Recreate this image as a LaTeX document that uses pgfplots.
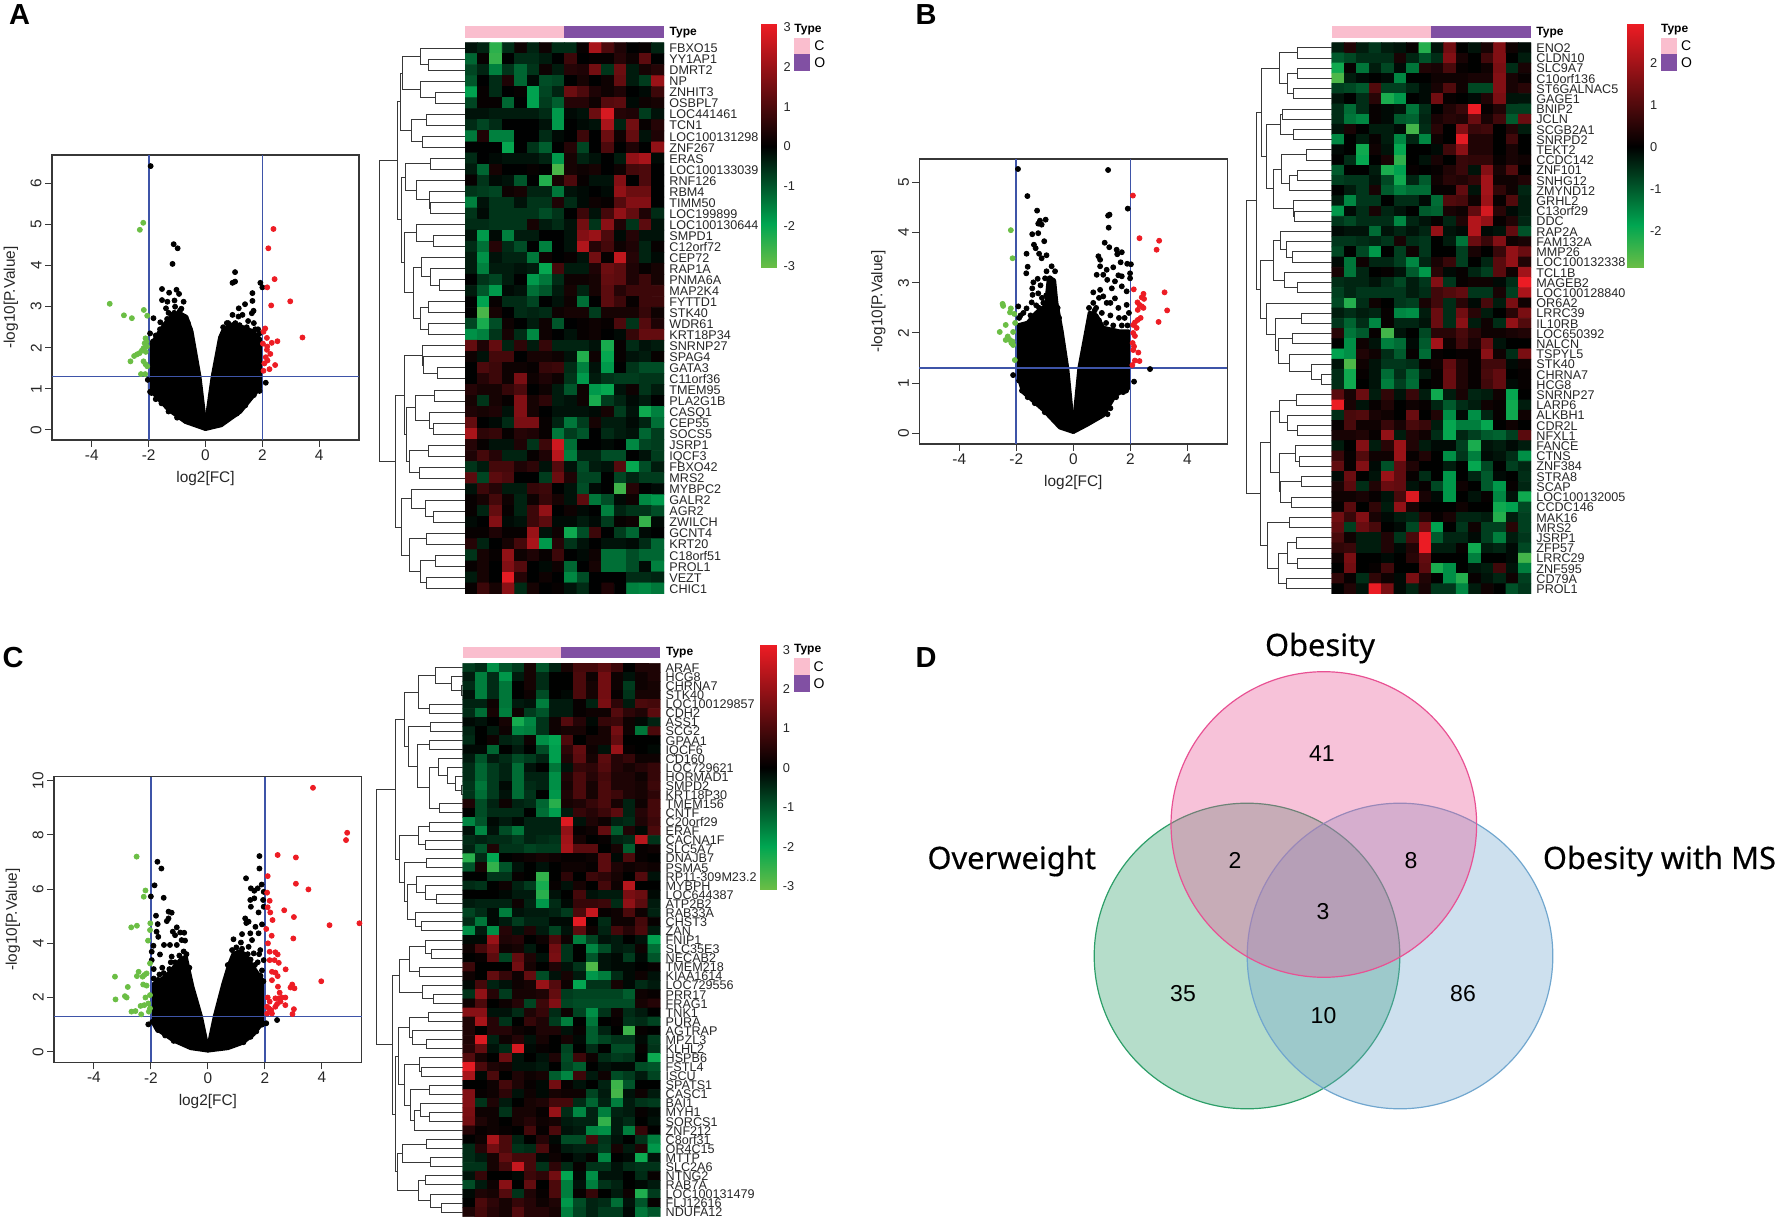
\documentclass[border=0pt]{standalone}
\usepackage{fontspec}
\setmainfont{Liberation Sans}
\newfontfamily\vennfont[FakeBold=0.4]{Noto Sans}
\usepackage{pgfplots}
\pgfplotsset{compat=1.18}
\definecolor{blu}{RGB}{62,84,168}
\definecolor{frm}{RGB}{55,55,55}
\definecolor{grn}{RGB}{107,190,69}
\definecolor{rd}{RGB}{237,28,36}
\definecolor{pnk}{RGB}{250,190,206}
\definecolor{prp}{RGB}{129,80,163}
\definecolor{vp}{RGB}{232,81,147}
\definecolor{vg}{RGB}{44,158,104}
\definecolor{vb}{RGB}{112,166,206}
\pgfplotsset{
 hmap/.style={colormap={hm}{rgb255(0cm)=(108,190,69); rgb255(1.8cm)=(0,166,81); rgb255(5cm)=(0,0,0); rgb255(10cm)=(237,28,36)}},
 volc/.style={scale only axis,anchor=south west,clip=false,axis line style={draw=frm,line width=.6pt},
  xmin=-5.4,xmax=5.4,xtick={-4,-2,0,2,4},xticklabels={-4,-2,0,2,4},
  tick align=outside,major tick length=3.5pt,tick style={draw=frm,line width=.5pt},xtick pos=bottom,ytick pos=left,
  tick label style={font=\fontsize{7.7}{9}\selectfont,text=black!85},
  xticklabel style={inner sep=1.3pt},
  yticklabel style={rotate=90,anchor=south,inner sep=1.5pt},
  every axis x label/.style={at={(axis description cs:.5,0)},anchor=center,yshift=-19.5pt,font=\fontsize{7.7}{9}\selectfont,text=black!85},
  every axis y label/.style={at={(axis description cs:0,.5)},rotate=90,anchor=center,yshift=20.5pt,font=\fontsize{7.7}{9}\selectfont,text=black!85},
  xlabel={log2[FC]},ylabel={-log10[P.Value]}},
 mass/.style={fill=black,draw=black,line width=2.2pt,line join=round},
 dots/.style={only marks,mark=*,mark size=1.25pt,mark options={draw=#1,fill=#1},draw=#1},
 vln/.style={blu,line width=.85pt},
 heat/.style={scale only axis,anchor=south west,hmap,y dir=reverse,xmin=-.5,xmax=15.5,ymin=-.5,xtick=\empty,
  axis line style={draw=none},major tick length=0pt,yticklabel pos=right,
  yticklabel style={font=\fontsize{6.3}{7}\selectfont,anchor=base west,inner sep=0pt,xshift=2.5pt,yshift=-2.3pt,text=black!85}},
 cbar/.style={scale only axis,anchor=south west,hmap,xmin=0,xmax=1,xtick=\empty,axis line style={draw=none},major tick length=0pt,
  yticklabel pos=right,yticklabel style={font=\fontsize{6.4}{7}\selectfont,anchor=west,inner sep=0pt,xshift=3.2pt,text=black!85}},
 dendax/.style={scale only axis,anchor=south west,hide axis,y dir=reverse,ymin=-.5,clip=false},
 dend/.style={draw=black!78,line width=.5pt,forget plot},
}
\newcommand\U[5]{\addplot[dend] coordinates {(#2,#1)(#5,#1)(#5,#3)(#4,#3)};}
\newcommand\T[4][]{\node[inner sep=0pt,#1] at ({#2*0.5pt},{(1218-#3)*0.5pt}) {#4};}
\begin{document}
\begin{tikzpicture}
\path[use as bounding box] (0,0) rectangle (888pt,609pt);
% ---------- page layer: annotation bars, swatches, Venn
\begin{axis}[at={(0,0)},anchor=south west,scale only axis,width=888pt,height=609pt,hide axis,xmin=0,xmax=1776,ymin=0,ymax=1218,y dir=reverse,clip=false]
\addplot[fill=pnk,draw=none] coordinates {(465,26)(564.3,26)(564.3,38)(465,38)} --cycle;
\addplot[fill=prp,draw=none] coordinates {(564.3,26)(664,26)(664,38)(564.3,38)} --cycle;
\addplot[fill=pnk,draw=none] coordinates {(794,37.7)(810,37.7)(810,54)(794,54)} --cycle;
\addplot[fill=prp,draw=none] coordinates {(794,54)(810,54)(810,70.7)(794,70.7)} --cycle;
\addplot[fill=pnk,draw=none] coordinates {(1331.7,26)(1431,26)(1431,38)(1331.7,38)} --cycle;
\addplot[fill=prp,draw=none] coordinates {(1431,26)(1531,26)(1531,38)(1431,38)} --cycle;
\addplot[fill=pnk,draw=none] coordinates {(1660.7,37.7)(1677,37.7)(1677,54)(1660.7,54)} --cycle;
\addplot[fill=prp,draw=none] coordinates {(1660.7,54)(1677,54)(1677,70.7)(1660.7,70.7)} --cycle;
\addplot[fill=pnk,draw=none] coordinates {(462.7,646.7)(561.3,646.7)(561.3,658.3)(462.7,658.3)} --cycle;
\addplot[fill=prp,draw=none] coordinates {(561.3,646.7)(660.3,646.7)(660.3,658.3)(561.3,658.3)} --cycle;
\addplot[fill=pnk,draw=none] coordinates {(793.7,658.3)(810,658.3)(810,674.7)(793.7,674.7)} --cycle;
\addplot[fill=prp,draw=none] coordinates {(793.7,674.7)(810,674.7)(810,691.7)(793.7,691.7)} --cycle;
\addplot[only marks,mark=*,mark size=76.4pt,mark options={draw=vg,fill=vg,fill opacity=.35,draw opacity=1,line width=.6pt}] coordinates {(1247,956)};
\addplot[only marks,mark=*,mark size=76.4pt,mark options={draw=vb,fill=vb,fill opacity=.35,draw opacity=1,line width=.6pt}] coordinates {(1400,956)};
\addplot[only marks,mark=*,mark size=76.4pt,mark options={draw=vp,fill=vp,fill opacity=.35,draw opacity=1,line width=.6pt}] coordinates {(1323.8,824.5)};
\end{axis}
% ---------- volcano A
\begin{axis}[volc,at={(26pt,389pt)},width=153.5pt,height=142.5pt,ymin=-.243,ymax=6.69,ytick={0,1,2,3,4,5,6},yticklabels={0,1,2,3,4,5,6}]
\addplot[mass] coordinates {(0,.03)(-.22,1.3)(-.5,2.4)(-.68,2.75)(-.95,2.85)(-1.3,2.7)(-1.65,2.35)(-1.92,2.05)(-1.95,1)(-1.7,.8)(-1.3,.5)(-.7,.2)} --cycle;
\addplot[mass] coordinates {(0,.03)(.26,1.3)(.52,2.25)(.65,2.45)(.85,2.5)(1.3,2.5)(1.65,2.4)(1.93,2.2)(1.93,1.05)(1.75,.9)(1.22,.45)(.55,.12)} --cycle;
\addplot[dots=black] coordinates {(-1.93,6.42)(-1.12,4.52)(-.98,4.42)(-1.16,4.04)(-1.53,3.43)(-1.28,3.34)(-1.02,3.41)(-.93,3.31)(-1.53,3.16)(-1.34,3.12)(-1.09,3.15)(-.77,3.12)(-1.07,3)(-1.39,2.96)(-1.83,2.72)(-1.59,2.62)(-1.95,2.35)(-1.3,2.85)(-.85,2.95)(-1.5,2.4)(1.04,3.84)(1.04,3.61)(.95,3.58)(1.93,3.58)(2,3.47)(1.65,3.33)(1.65,3.14)(1.39,3.06)(1.17,2.96)(1.69,2.9)(1.63,2.84)(.95,2.8)(1.16,2.76)(1.3,2.8)(1.5,2.65)(1.7,2.6)(.8,2.6)(1.05,2.6)(1.85,2.45)(2.12,1.15)(-2.03,1.22)(-1.95,.93)
(-1.75,2.3)(-1.85,2.15)(-1.6,2.45)(-1.45,2.55)(-1.35,2.7)(-1.2,2.8)(-1.1,2.85)(-.9,2.9)(-.75,2.75)(-.62,2.6)(-.55,2.45)(-1.9,.9)(-1.75,.75)(-1.55,.65)(-1.3,.45)(-1,.3)(.62,2.5)(.75,2.6)(.95,2.55)(1.2,2.55)(1.45,2.5)(1.75,2.45)(1.9,2.35)(1.9,.95)(1.7,.85)(1.4,.6)(1.1,.4)};
\addplot[dots=grn] coordinates {(-2.19,5.04)(-2.31,4.87)(-3.37,3.07)(-2.87,2.79)(-2.59,2.72)(-2.17,2.92)(-2.05,2.78)(-2.11,2.23)(-2.14,2.11)(-2.18,1.99)(-2.24,1.93)(-2.32,1.87)(-2.41,1.84)(-2.51,1.8)(-2.64,1.67)(-2.18,1.67)(-2.11,1.6)(-2.27,1.36)(-2.12,1.36)(-2.06,2.03)(-2.08,2.15)(-2.1,1.9)(-2.05,1.55)};
\addplot[dots=rd] coordinates {(2.39,4.89)(2.21,4.42)(2.43,3.67)(2.17,3.47)(2.98,3.13)(2.31,3.03)(3.41,2.25)(2.53,2.16)(2.33,2.12)(2.16,2.24)(2.1,2.47)(2.04,2.39)(2.17,2.03)(2.16,1.95)(2.28,1.85)(2.12,1.77)(2.18,1.69)(2.07,1.62)(2.45,1.58)(2.25,1.48)(2.04,1.44)(2.02,2.1)};
\addplot[vln] coordinates {(-2,-.243)(-2,6.69)};
\addplot[vln] coordinates {(2,-.243)(2,6.69)};
\addplot[vln] coordinates {(-5.4,1.3)(5.4,1.3)};
\end{axis}
% ---------- volcano B
\begin{axis}[volc,at={(459.65pt,387pt)},width=154pt,height=142.5pt,ymin=-.214,ymax=5.47,ytick={0,1,2,3,4,5},yticklabels={0,1,2,3,4,5}]
\addplot[mass] coordinates {(0,.03)(-.22,1.3)(-.42,2.05)(-.6,2.6)(-.68,3.05)(-.85,3.1)(-.95,2.55)(-1.3,2.4)(-1.6,2.2)(-1.93,2.15)(-1.93,1.15)(-1.75,.82)(-1.05,.47)(-.47,.12)} --cycle;
\addplot[mass] coordinates {(0,.03)(.22,1.3)(.45,2)(.58,2.4)(.8,2.35)(1.05,2.1)(1.6,2.03)(1.93,2.03)(1.93,.9)(1.46,.76)(1.05,.36)(.47,.17)} --cycle;
\addplot[dots=black] coordinates {(-1.94,5.27)(-1.61,4.73)(-1.27,4.44)(-.97,4.26)(-1.17,4.24)(-1.11,4.16)(-1.23,4.18)(-1.44,3.97)(-1.23,3.99)(-1.02,3.83)(-1.38,3.76)(-1.32,3.69)(-1.64,3.58)(-1.2,3.58)(-.94,3.55)(-1.11,3.49)(-1.6,3.32)(-1.65,3.19)(-1.25,3.08)(-1.4,3.01)(-1.44,2.89)(-1.15,2.95)(-.76,3.33)(-.94,3.23)(-.64,3.23)(-.99,3.09)(-.82,3.09)(-1.93,2.53)(-1.64,2.49)(-1.43,2.76)(-1.46,2.61)(-1.23,2.79)(-1.1,2.7)(-1.3,2.55)(-1.85,2.35)
(1.22,5.25)(1.27,4.36)(1.22,4.34)(1.91,4.48)(1.24,4.1)(1.1,3.8)(1.26,3.71)(1.52,3.66)(1.7,3.61)(1.54,3.57)(.88,3.53)(.94,3.46)(1.66,3.41)(1.89,3.38)(2.02,3.37)(1.99,3.19)(.94,3.33)(1.4,3.31)(1.17,3.26)(.82,3.16)(1.05,3.16)(1.58,3.15)(1.7,3.13)(1.99,3.09)(1.46,3.03)(1.19,3.06)(.7,2.81)(.94,2.86)(1.35,2.89)(1.7,2.93)(1.87,2.83)(1.05,2.73)(1.46,2.69)(1.87,2.56)(1.17,2.6)(.7,2.6)(1.58,2.5)(.8,2.5)(1,2.4)(1.3,2.35)(1.6,2.3)(1.8,2.3)(1.95,2.4)(1.3,2.6)(.9,2.7)(2.69,1.28)(2.13,1.03)(-2.11,1.16)
(-1.9,2.3)(-1.75,2.4)(-1.5,2.35)(-1.2,2.5)(-1.05,2.6)(-.95,2.75)(-.55,2.5)(-.5,2.3)(-1.9,1.05)(-1.8,.85)(-1.6,.72)(-1.35,.6)(-1,.42)(.55,2.5)(.65,2.3)(.75,2.45)(.9,2.25)(1.15,2.2)(1.4,2.15)(1.7,2.15)(1.9,2.15)(1.85,.85)(1.75,.82)(1.5,.72)(1.3,.5)(1.2,.38)};
\addplot[dots=grn] coordinates {(-2.19,4.05)(-2.13,3.49)(-2.48,2.58)(-2.46,2.54)(-2.19,2.49)(-2.22,2.41)(-2.07,2.38)(-2.37,2.16)(-2.04,2.2)(-2.58,2.02)(-2.11,2.02)(-2.3,1.93)(-2.37,1.86)(-2.22,1.86)(-2.13,1.83)(-2.11,1.76)(-2.05,1.46)(-2.17,1.8)};
\addplot[dots=rd] coordinates {(2.09,4.74)(2.32,3.89)(3.01,3.84)(2.92,3.66)(3.2,2.81)(3.29,2.45)(2.99,2.22)(2.12,2.87)(2.46,2.78)(2.4,2.71)(2.48,2.68)(2.25,2.61)(2.32,2.56)(2.4,2.53)(2.46,2.5)(2.26,2.46)(2.36,2.3)(2.26,2.26)(2.16,2.21)(2.1,2.16)(2.22,2.1)(2.1,2)(2.16,1.94)(2.08,1.8)(2.13,1.73)(2.28,1.61)(2.1,1.66)(2.16,1.45)(2.32,1.44)(2.07,1.36)};
\addplot[vln] coordinates {(-2,-.214)(-2,5.47)};
\addplot[vln] coordinates {(2,-.214)(2,5.47)};
\addplot[vln] coordinates {(-5.4,1.3)(5.4,1.3)};
\end{axis}
% ---------- volcano C
\begin{axis}[volc,at={(27pt,77.85pt)},width=153.85pt,height=142.8pt,ymin=-.39,ymax=10.15,ytick={0,2,4,6,8,10},yticklabels={0,2,4,6,8,10}]
\addplot[mass] coordinates {(0,.05)(-.25,1.3)(-.55,2.4)(-.72,3.2)(-.78,3.5)(-.95,3.4)(-1.2,3.1)(-1.5,2.75)(-1.9,2.5)(-1.93,1.1)(-1.8,.85)(-1.2,.42)(-.6,.14)} --cycle;
\addplot[mass] coordinates {(0,.05)(.25,1.3)(.55,2.5)(.75,3.2)(.9,3.6)(1.1,3.7)(1.3,3.6)(1.6,3.1)(1.93,2.6)(1.93,1.1)(1.6,.65)(1.2,.33)(.7,.14)} --cycle;
\addplot[dots=black] coordinates {(-1.77,7.01)(-1.63,6.76)(-1.87,6.14)(-2,5.73)(-1.55,5.68)(-1.82,5.02)(-1.38,5.17)(-1.27,5.13)(-1.38,4.92)(-1.44,4.82)(-1.76,4.71)(-1.09,4.59)(-1.23,4.43)(-.97,4.4)(-.83,4.39)(-1.15,4.3)(-1.8,4.43)(-1.74,4.24)(-.92,4.12)(-.8,4.1)(-1.91,3.91)(-1.54,3.94)(-1.33,3.94)(-1.09,3.94)(-1.97,3.69)(-1.68,3.59)(-1.27,3.51)(-1.97,3.38)(-1.3,3.3)(-1.6,3.1)(-1.9,3.05)(-1.7,2.85)(-.85,3.7)
(1.81,7.22)(1.81,6.76)(1.34,6.4)(1.89,6.17)(1.51,6.03)(1.63,5.94)(1.75,6.03)(1.49,5.6)(1.63,5.66)(1.96,5.9)(1.94,5.6)(1.96,5.35)(1.51,5.35)(1.78,5.14)(1.31,4.92)(1.43,4.8)(1.67,4.61)(1.9,4.7)(1.35,4.75)(1.2,4.34)(1.49,4.37)(1.78,4.37)(.9,4.15)(1.55,4.12)(1.16,4.03)(1.84,3.75)(1.43,3.87)(1.96,3.38)(1.61,3.63)(1.75,3.3)(1.5,3.4)(1.9,3)(1.8,3.6)(2.43,1.17)(2.05,1.05)(-2.09,1.01)
(-1.9,2.7)(-1.75,2.65)(-1.55,2.9)(-1.35,3.05)(-1.15,3.3)(-1,3.55)(-.75,3.6)(-.65,3.1)(-1.95,1.1)(-1.75,.8)(-1.5,.6)(-1.2,.4)(.7,3.2)(.85,3.75)(1,3.85)(1.2,3.8)(1.4,3.6)(1.65,3.2)(1.85,2.8)(1.95,2.6)(1.9,1)(1.7,.75)(1.5,.55)(1.25,.35)};
\addplot[dots=grn] coordinates {(-2.5,7.2)(-2.19,5.95)(-2.25,5.72)(-2.49,4.65)(-2.69,4.59)(-2.02,4.74)(-2.03,4.49)(-2.1,4.1)(-2.03,3.26)(-2.43,2.95)(-2.15,2.89)(-3.26,2.77)(-2.49,2.79)(-2.29,2.77)(-2.23,2.83)(-2.81,2.39)(-2.27,2.48)(-2.15,2.44)(-2.91,2.05)(-2.85,2)(-3.24,1.93)(-2.19,2)(-2.03,2.09)(-2.36,1.69)(-2.23,1.72)(-2.09,1.78)(-2.68,1.48)(-2.54,1.5)(-2.07,1.48)(-2.34,1.38)(-2.03,1.6)};
\addplot[dots=rd] coordinates {(3.69,9.74)(4.89,8.08)(4.85,7.81)(2.45,7.26)(3.09,7.17)(2.1,6.48)(3.09,6.2)(3.53,5.99)(2.08,5.87)(2.17,5.57)(2.1,5.33)(2.68,5.22)(2.19,5.14)(3.02,4.97)(2.27,4.86)(4.27,4.67)(5.32,4.74)(2.05,4.53)(2.24,4.28)(3,4.18)(2.11,4)(2.17,3.69)(2.37,3.67)(2.45,3.59)(2.17,3.38)(2.34,3.38)(2.49,3.28)(2.73,3.04)(2.25,2.95)(2.37,2.92)(2.45,2.79)(2.25,2.64)(3.98,2.6)(2.96,2.48)(2.9,2.37)(3.04,2.34)(2.46,2.4)(2.52,2.18)(2.1,2)(2.37,1.97)(2.6,2)(2.72,2)(2.49,1.97)(2.17,1.85)(2.55,1.85)(2.72,1.72)(2.37,1.66)(2.43,1.76)(2.08,1.66)(2.14,1.6)(3.02,1.57)(2.22,1.54)(2.08,1.41)(2.25,1.41)(2.97,1.39)};
\addplot[vln] coordinates {(-2,-.39)(-2,10.15)};
\addplot[vln] coordinates {(2,-.39)(2,10.15)};
\addplot[vln] coordinates {(-5.4,1.3)(5.4,1.3)};
\end{axis}
% ---------- heatmap A
\begin{axis}[heat,at={(232.5pt,312pt)},width=99.5pt,height=275.65pt,ymax=49.5,point meta min=-3.06,point meta max=3.09,ytick={0,...,49},
yticklabels={FBXO15,YY1AP1,DMRT2,NP,ZNHIT3,OSBPL7,LOC441461,TCN1,LOC100131298,ZNF267,ERAS,LOC100133039,RNF126,RBM4,TIMM50,LOC199899,LOC100130644,SMPD1,C12orf72,CEP72,RAP1A,PNMA6A,MAP2K4,FYTTD1,STK40,WDR61,KRT18P34,SNRNP27,SPAG4,GATA3,C11orf36,TMEM95,PLA2G1B,CASQ1,CEP55,SOCS5,JSRP1,IQCF3,FBXO42,MRS2,MYBPC2,GALR2,AGR2,ZWILCH,GCNT4,KRT20,C18orf51,PROL1,VEZT,CHIC1}]
\addplot[matrix plot*,mesh/cols=16,point meta=explicit] table[row sep=\\,header=false,x expr={\coordindex-16*floor((\coordindex+.5)/16)},y expr={floor((\coordindex+.5)/16)},meta index=0] {
-.2\\-.4\\-2.4\\-.5\\.2\\-.4\\.2\\-.5\\-.5\\.1\\2.2\\1\\.4\\0\\.1\\-.4\\
-1.2\\.1\\-2.5\\0\\-.5\\-.5\\-.3\\0\\.8\\0\\.1\\.1\\.5\\.2\\1.2\\0\\
-.8\\-.4\\-1.5\\-.6\\-1.2\\-.6\\.2\\-.3\\.5\\.4\\1.5\\-.6\\1.4\\-.3\\.3\\.5\\
-1\\.0\\-.5\\.4\\-1.2\\-.1\\-.9\\-.8\\0\\.3\\0\\.2\\1.3\\-.3\\-.7\\2\\
-1.9\\.1\\-.5\\0\\.1\\-1.9\\-.8\\-.4\\1.4\\1\\.4\\.2\\.4\\0\\-.1\\.8\\
-.8\\.1\\.1\\-1.2\\0\\-1.9\\-.7\\-1.1\\.5\\.5\\.2\\1.1\\1.2\\-.1\\.2\\.3\\
-.2\\-.2\\-.3\\-.3\\-.3\\-.3\\-.5\\-1.8\\-.1\\-.2\\1.4\\2.8\\.5\\.4\\-.7\\-.2\\
-.5\\-.8\\-.5\\0\\0\\0\\-.2\\-1.8\\0\\-.1\\-.2\\2.2\\-.4\\1.5\\.1\\.5\\
-1.4\\.4\\-1.5\\-1.5\\0\\0\\-.5\\-.1\\0\\.8\\0\\1.4\\.2\\1.3\\-.2\\.4\\
0\\0\\0\\-2\\0\\-.6\\-1.1\\0\\.5\\-.8\\0\\1\\0\\.4\\0\\1.9\\
-.5\\0\\-.1\\-.2\\-.2\\-.2\\-.4\\-1.8\\.3\\-.4\\-.2\\0\\-.3\\1.9\\2.2\\-.1\\
-.3\\-1.2\\.3\\0\\0\\.1\\0\\-2.7\\.3\\.2\\.3\\0\\.2\\.9\\1\\0\\
.1\\-.6\\-.1\\-.2\\-1\\0\\-2.3\\.3\\1\\.1\\-.2\\-.2\\1.7\\0\\1\\0\\
-.6\\-.7\\-.8\\.2\\.3\\-.4\\-.4\\-1.4\\-.2\\-.1\\0\\-.1\\1.9\\1.4\\1.4\\0\\
-1.5\\-.2\\-.6\\-.6\\-.2\\-.6\\-.6\\.4\\-.5\\-.1\\.2\\.1\\1.1\\1.7\\1.7\\0\\
-.6\\-.1\\-.6\\-.6\\-.6\\-.6\\-.9\\-.6\\0\\.8\\-.2\\.9\\1.9\\1.3\\.4\\-.5\\
-.5\\-.5\\-.6\\-.6\\-.6\\.3\\-.3\\-.5\\-.2\\1.5\\-.6\\1.8\\.4\\-.6\\1.2\\-.2\\
-.2\\-1.8\\-.1\\-1.5\\-.3\\-.3\\0\\0\\-.2\\1.7\\2\\1\\-.1\\.5\\-.2\\-.2\\
-.5\\-1.3\\.5\\-.5\\-.9\\0\\-1.5\\0\\-.2\\2.3\\.5\\.9\\.2\\.4\\-.4\\.1\\
-.3\\-1.7\\-.2\\-.4\\-.4\\-1.4\\.2\\0\\.1\\-.2\\1.5\\.1\\2.5\\.5\\-.4\\-.1\\
-.3\\-1.5\\-.3\\-.3\\-.2\\-.3\\-2\\.9\\-.3\\-.3\\.4\\1.4\\1.2\\.4\\.1\\.3\\
0\\-.6\\-.8\\-.3\\0\\-1.8\\-1.4\\-.5\\.2\\.2\\.3\\1.3\\1.2\\.4\\.8\\.3\\
-.3\\-1\\-1.8\\-.1\\-.2\\-1.3\\-1\\-.3\\.3\\-.4\\.3\\1.2\\.5\\.8\\.8\\.8\\
0\\-1.9\\.1\\-.5\\-.5\\-.8\\0\\-.2\\.2\\-1.3\\0\\1.2\\.8\\.1\\.8\\.8\\
0\\-2.7\\.3\\0\\-.5\\-.4\\-.5\\.2\\.3\\.3\\-.7\\.3\\.3\\.3\\.7\\.2\\
-.8\\-2.2\\-.9\\.2\\0\\-.3\\.2\\-1\\0\\.1\\.2\\.1\\1\\-.6\\1.1\\.4\\
-1.7\\-1.5\\-.6\\.3\\-.5\\-1.6\\.2\\0\\-.2\\.1\\.2\\0\\-.1\\.7\\1.3\\1.3\\
1.3\\.4\\1.3\\-.4\\.6\\-.3\\.7\\-.4\\-.4\\-.4\\-.2\\-2.2\\.1\\-.5\\-.2\\-.3\\
.2\\-.2\\.9\\.9\\0\\.3\\.3\\.2\\-.2\\-2.3\\.2\\-2\\.1\\-.2\\-.3\\.1\\
0\\1\\.8\\.2\\.2\\.1\\.7\\.8\\-.5\\-1.5\\-.2\\-1.8\\0\\-.6\\-.9\\-.9\\
0\\.5\\.8\\.2\\1.6\\.2\\.4\\.2\\-.6\\-1.8\\-.3\\-.6\\-.7\\-.7\\-.6\\-.6\\
.5\\.3\\.3\\.7\\1\\0\\.2\\-.3\\-1\\.2\\-1.8\\-2\\-.2\\.2\\-.6\\-.3\\
.3\\-.6\\.3\\.1\\1.7\\.3\\.6\\-.3\\-.2\\.2\\-2.2\\-.7\\-.4\\-.1\\-.3\\0\\
.4\\.3\\.4\\-.2\\1.7\\.3\\0\\-.2\\-.2\\-.2\\-.1\\.3\\-.7\\-.2\\-2.1\\-1.5\\
1.3\\0\\-.1\\-.5\\1.6\\1.6\\.1\\-.4\\-1.4\\-.7\\.3\\-.3\\-.3\\-.1\\-.4\\-1.3\\
2.2\\.6\\.7\\.1\\.5\\.4\\.1\\-1.4\\-.7\\-1\\0\\-.5\\-.3\\-.2\\-1.2\\-.7\\
.5\\.1\\-.2\\-.2\\.4\\-.6\\.8\\2.7\\-1.3\\0\\0\\-.1\\0\\-1.6\\-.8\\-.7\\
.4\\.9\\.5\\-.4\\-.4\\.1\\.4\\2.4\\-1.5\\-.4\\-.4\\-.9\\-.9\\0\\-.2\\-.7\\
-.6\\-.3\\.9\\.9\\.4\\.6\\-.2\\1.1\\-.2\\-.9\\-.3\\-.2\\1.1\\-2\\-.9\\-.3\\
1.2\\-.8\\1.2\\1\\0\\0\\-.7\\1.4\\.4\\-.8\\-.8\\0\\-.8\\-.4\\-.7\\-.7\\
-.2\\.8\\.5\\-.3\\-.3\\.7\\.8\\0\\-.2\\-.9\\-.1\\0\\-2.6\\.5\\0\\-.1\\
.1\\.3\\.9\\.2\\-.4\\.2\\.7\\.3\\-.2\\1.2\\-1.4\\-.9\\-.1\\.2\\-1.6\\-1.8\\
.1\\-.4\\1.3\\.1\\-.4\\.8\\1.9\\0\\.2\\-.1\\0\\-1.5\\-.4\\-.6\\-.6\\-.9\\
-.1\\0\\1.7\\-.1\\-.2\\.8\\1.2\\-.1\\-.1\\-.3\\-.1\\-.7\\.1\\.2\\-2.5\\-.1\\
.1\\.1\\.4\\.1\\.1\\2\\-.2\\.2\\-2.1\\-.9\\.8\\0\\-.7\\-1.2\\-.1\\0\\
.5\\-.4\\0\\.3\\.9\\2.2\\-1.8\\.5\\-.6\\-.2\\0\\-.2\\-.2\\-.1\\-.5\\-1.2\\
-.6\\.3\\.1\\1.9\\.2\\.4\\.1\\.8\\0\\-.1\\.2\\-1.3\\-1.3\\-.9\\-1.2\\-1.2\\
.1\\.3\\0\\1.7\\1.1\\0\\-.1\\.2\\-1.2\\0\\.3\\-1.3\\-1.3\\-.9\\-.1\\-1.5\\
-.3\\.3\\0\\3\\.5\\0\\.2\\0\\-1.6\\-.9\\0\\0\\0\\-.5\\-.5\\-.4\\
.1\\.8\\.3\\1.8\\-.5\\.3\\0\\.1\\-.2\\-.5\\0\\.4\\0\\-1.5\\-1.6\\-1.4\\
};
\end{axis}
% ---------- heatmap B
\begin{axis}[heat,at={(665.85pt,312pt)},width=99.65pt,height=275.65pt,ymax=53.5,point meta min=-2.9,point meta max=2.92,ytick={0,...,53},
yticklabels={ENO2,CLDN10,SLC9A7,C10orf136,ST6GALNAC5,GAGE1,BNIP2,JCLN,SCGB2A1,SNRPD2,TEKT2,CCDC142,ZNF101,SNHG12,ZMYND12,GRHL2,C13orf29,DDC,RAP2A,FAM132A,MMP26,LOC100132338,TCL1B,MAGEB2,LOC100128840,OR6A2,LRRC39,IL10RB,LOC650392,NALCN,TSPYL5,STK40,CHRNA7,HCG8,SNRNP27,LARP6,ALKBH1,CDR2L,NFXL1,FANCE,CTNS,ZNF384,STRA8,SCAP,LOC100132005,CCDC146,MAK16,MRS2,JSRP1,ZFP57,LRRC29,ZNF595,CD79A,PROL1}]
\addplot[matrix plot*,mesh/cols=16,point meta=explicit] table[row sep=\\,header=false,x expr={\coordindex-16*floor((\coordindex+.5)/16)},y expr={floor((\coordindex+.5)/16)},meta index=0] {
-.3\\.4\\-.3\\-.6\\-.3\\-.2\\.1\\-2.2\\-.2\\1.4\\0\\-.2\\.3\\1.6\\.2\\-.1\\
-1\\-.8\\-.5\\-.5\\-.5\\.3\\-.4\\-.9\\-.5\\1.6\\.3\\0\\.8\\1.6\\0\\-.3\\
-2\\.1\\-1.3\\-.3\\-.8\\-.1\\-1.3\\.4\\.3\\.9\\.1\\0\\.2\\1.5\\-.5\\.3\\
-2.6\\-.3\\-.1\\0\\-.1\\-1.5\\0\\0\\.2\\.2\\.2\\.3\\.3\\1.6\\.3\\.1\\
-.7\\-.8\\-1\\1\\-.7\\-.7\\-.4\\-.1\\.3\\1\\.2\\-.8\\-.8\\1.6\\.3\\.5\\
-.2\\0\\-.5\\.5\\-2.1\\-1.7\\0\\-.1\\1.4\\.1\\0\\-.1\\.4\\1.5\\-.2\\-.2\\
-.5\\-1.2\\-.5\\.1\\-.1\\-.2\\-1.3\\-.5\\0\\.4\\.7\\2.9\\.1\\.4\\-.7\\-.7\\
-.5\\-1.3\\-1.5\\.1\\-.1\\-1\\-1.1\\-.4\\.3\\.5\\.4\\1.3\\.3\\.8\\-1\\1.3\\
-.2\\.3\\0\\-.3\\-.3\\-.1\\-2.5\\-.5\\.5\\0\\1.6\\.7\\.8\\0\\.4\\-.3\\
-1.5\\0\\-.3\\.1\\-.3\\-1.5\\-.4\\-1.5\\.2\\0\\2.8\\.4\\.4\\0\\.8\\0\\
-.1\\0\\-2\\.2\\-.2\\-1.9\\0\\0\\-.1\\.8\\1.7\\.4\\.4\\0\\.3\\0\\
0\\-.5\\-1.9\\0\\.3\\-2.3\\0\\-.2\\.3\\0\\.7\\.6\\.6\\.1\\.3\\.2\\
-1\\0\\0\\-.3\\-2.1\\-1.8\\.1\\0\\.1\\.4\\.7\\-.2\\1.6\\.3\\1\\0\\
-.7\\-.6\\-.6\\-.2\\-.8\\-2\\-.4\\-1\\.2\\.5\\.4\\.6\\2\\.2\\.2\\.4\\
0\\-.3\\-.6\\.3\\-1\\-1.4\\-1.2\\-1.2\\.1\\.1\\1.2\\-.2\\2\\.6\\.2\\-.4\\
-.3\\-1.5\\-.6\\-.6\\0\\-.5\\-.5\\-.1\\-1.2\\1\\.9\\.2\\1.9\\.1\\1\\-.3\\
-1.7\\-.1\\-.5\\.3\\-.4\\-.2\\0\\-1\\-1.1\\.3\\.2\\1.2\\2.6\\.5\\-.1\\-.3\\
-.6\\-.8\\-.5\\-.5\\-.5\\-1.5\\-.4\\-.2\\.1\\-.4\\.4\\2.2\\1.8\\.1\\.4\\-.4\\
-.1\\-.2\\-.2\\-1.2\\-.2\\-.4\\-.2\\-.4\\1.8\\-.2\\-.1\\2.2\\-.1\\-.2\\1.2\\-.9\\
-.6\\-.6\\-.5\\-.4\\-.6\\.3\\-.5\\-.6\\0\\-.3\\-1.3\\1.3\\.7\\1.6\\.2\\.3\\
-.8\\0\\-.8\\-1.7\\0\\-.7\\.2\\-.6\\0\\0\\-.7\\.3\\0\\.7\\1.8\\1.3\\
-.1\\-1.3\\.2\\-.4\\-.4\\-.7\\-1.5\\-.4\\.3\\.7\\-.7\\0\\-.4\\1.1\\1.8\\.4\\
.3\\-1.3\\-.4\\0\\.1\\-.2\\-1\\-1.7\\.5\\-.1\\.1\\-.4\\-.7\\1.1\\.2\\2\\
-.5\\-.4\\-.4\\-.2\\-.5\\-.8\\-.3\\-.6\\1.6\\-.6\\.1\\.2\\.2\\-.1\\-.5\\2.9\\
-.7\\-.4\\-.6\\-.6\\-.6\\-.6\\-.3\\-.5\\.8\\1\\1.2\\-.6\\-.6\\.3\\-.7\\2.1\\
-.8\\-2.2\\-.5\\.2\\0\\-.6\\-.7\\.3\\.8\\-.5\\.5\\-.1\\.9\\-.3\\1.5\\.2\\
-.3\\-.5\\-.3\\-.4\\.1\\-1.5\\-1.6\\-.3\\1.3\\-.5\\1.4\\.5\\-.3\\0\\.5\\1.5\\
-.6\\-1.1\\-.5\\-1.5\\.1\\-.4\\-.4\\-.2\\1.3\\-.5\\1.7\\-.3\\.2\\-.5\\1.8\\1\\
.5\\-1.3\\-1\\.1\\-2.5\\-.2\\0\\-.8\\.5\\.5\\.9\\.5\\.2\\.2\\.3\\.4\\
0\\-1.6\\.2\\-.2\\-1.4\\-1.2\\-.1\\-1\\2\\.2\\.8\\.3\\1.3\\-.2\\0\\0\\
-1.8\\-1.6\\.4\\.2\\-.5\\-1\\.1\\-1.2\\.1\\0\\.1\\.1\\1.7\\.2\\-.5\\1.5\\
-.2\\-2.6\\.2\\-.2\\-.6\\-.6\\-.5\\.1\\.2\\1.2\\.4\\.1\\.8\\.8\\-.1\\.2\\
-.5\\-2\\.1\\-.2\\-1.2\\-.5\\-1.1\\-.3\\.1\\1.3\\.4\\.1\\.9\\1.2\\0\\.1\\
-.5\\-2\\0\\-.2\\-1.4\\-.7\\-1.2\\0\\.1\\1.3\\.4\\.1\\.8\\1.2\\-.1\\.1\\
1.1\\.3\\1.3\\-.3\\.6\\-.2\\.7\\-.3\\-2\\-.3\\.3\\-.4\\-.3\\.2\\-1.9\\0\\
2.9\\.3\\-.2\\.1\\.4\\0\\.2\\.1\\-.4\\-1\\-.5\\-.3\\.2\\.1\\-2\\-.3\\
-.5\\.9\\1\\.3\\.2\\0\\1.3\\0\\.4\\-1.6\\-.1\\-1.6\\-.4\\.1\\-2\\.2\\
.1\\.9\\.2\\.2\\.7\\.3\\.9\\.7\\-.3\\-1.9\\-1.4\\-1.4\\-1.9\\0\\.2\\0\\
.3\\.3\\.4\\.1\\1.8\\-.3\\.4\\.2\\-.5\\-1.9\\-.4\\-.7\\-1\\-1.1\\-.7\\1.1\\
-.3\\0\\1.6\\-.3\\.5\\1.9\\.4\\-.3\\-.1\\-.1\\-.7\\-2.1\\-.2\\-.3\\-.1\\-.3\\
.7\\.1\\1\\.2\\.2\\1.9\\.1\\.4\\0\\-1.6\\-.6\\-1.4\\-.1\\-.2\\-.5\\-1.6\\
1.2\\.1\\1.6\\-.1\\-.9\\1.2\\.4\\0\\0\\-.3\\0\\-1.9\\-.8\\0\\-.7\\-.4\\
-.1\\1.3\\0\\-.2\\1.9\\1.2\\.1\\-.5\\0\\-1.7\\0\\-.4\\-1\\-.1\\0\\-.5\\
.3\\1.1\\-.5\\.4\\1.3\\1.2\\-.2\\.1\\-.8\\-1.7\\.2\\0\\-1\\-1.7\\.1\\-.4\\
.2\\.2\\.3\\.1\\-.2\\.9\\2.7\\.3\\-.1\\-1.7\\0\\-.2\\.1\\-1.5\\-.2\\-2\\
.1\\1.1\\0\\.6\\-.3\\1.8\\.3\\0\\0\\0\\.2\\0\\0\\-2\\-1.8\\-.8\\
1.4\\.7\\1.6\\.3\\-.1\\-.3\\-.4\\.5\\.1\\.3\\-.4\\-.4\\-.3\\-2.2\\-.3\\-.7\\
1.2\\-.7\\1.3\\.9\\0\\-.1\\-.8\\1.4\\-1.8\\0\\-.6\\.2\\-.7\\-.7\\.5\\-.7\\
.9\\.2\\-.3\\-.3\\.4\\-.6\\.9\\2.9\\-1\\-.4\\-.4\\-.1\\-.7\\-1.4\\-.3\\-.6\\
.6\\.7\\-.3\\-.3\\.4\\-.1\\.4\\2.9\\-.3\\-.3\\.1\\-2\\-.3\\-.4\\-.1\\-.8\\
.2\\1.5\\0\\0\\-.1\\0\\.5\\1.2\\0\\0\\0\\-1.4\\0\\0\\-.1\\-2.5\\
0\\1.4\\0\\.1\\.8\\0\\0\\1.1\\-2.1\\-1.6\\0\\-.2\\-.3\\.8\\-.2\\-1.4\\
.6\\.1\\-.5\\.6\\.2\\-.1\\1.5\\.4\\0\\-1.6\\-2.2\\.1\\-.2\\-.4\\.2\\-.7\\
0\\.4\\-.2\\2.9\\1.5\\-.1\\-.4\\.3\\-.6\\-.6\\-1.5\\-.3\\.2\\0\\-.9\\-.6\\
};
\end{axis}
% ---------- heatmap C
\begin{axis}[heat,at={(231.35pt,.65pt)},width=98.8pt,height=276.7pt,ymax=60.5,point meta min=-3.1,point meta max=3.12,ytick={0,...,60},
yticklabels={ARAF,HCG8,CHRNA7,STK40,LOC100129857,CDH2,ASS1,SCG2,GPAA1,IQCF6,CD160,LOC729621,HORMAD1,SMPD2,KRT18P30,TMEM156,CNTF,C20orf29,ERAF,CACNA1F,SLC5A7,DNAJB7,PSMA5,RP11-309M23.2,MYBPH,LOC644387,ATP2B2,RAB33A,CHST3,ZAN,FNIP1,SLC35E3,NECAB2,TMEM218,KIAA1614,LOC729556,PRR17,FRAG1,TNK1,PURA,AGTRAP,MPZL3,KLHL2,HSPB6,FSTL4,ISCU,SPATS1,CASC1,BAI1,MYH1,SORCS1,ZNF212,C8orf31,OR4C15,MTTP,SLC2A6,NTNG2,RAB7A,LOC100131479,FLJ12616,NDUFA12}]
\addplot[matrix plot*,mesh/cols=16,point meta=explicit] table[row sep=\\,header=false,x expr={\coordindex-16*floor((\coordindex+.5)/16)},y expr={floor((\coordindex+.5)/16)},meta index=0] {
-.7\\-.5\\-1.7\\-1\\-.7\\.3\\-1\\-.4\\.3\\.9\\.9\\1.2\\.8\\0\\.4\\.4\\
-.3\\-1.5\\-.5\\-1.8\\-.3\\.3\\-.5\\0\\0\\1\\.2\\1.5\\.2\\-.2\\.2\\.4\\
-.5\\-1.5\\-.5\\-1.4\\0\\.3\\-.5\\0\\0\\1\\.3\\1.5\\.2\\-.7\\.2\\.3\\
-.2\\-1.5\\-.5\\-1.4\\0\\.2\\-.9\\0\\-.1\\1\\.3\\1.5\\.1\\-.6\\.3\\.3\\
-.4\\-.4\\.2\\-1.4\\-.3\\-.2\\-1.5\\-.3\\-.3\\.1\\-.4\\1.6\\.6\\-.3\\1\\.9\\
-.5\\-1.3\\.3\\-1.5\\.2\\-.7\\-1\\-.3\\-.3\\.1\\.2\\.2\\1.1\\.6\\.4\\1.2\\
-.1\\-.2\\0\\.3\\-2.2\\-1.6\\-.6\\.2\\1.1\\.5\\-.1\\.7\\.8\\.2\\-.1\\-.4\\
-.4\\0\\-.3\\.2\\-1.6\\-1.5\\-.6\\.2\\.3\\.3\\0\\.3\\1.5\\.2\\-1.4\\1\\
-.5\\0\\.2\\-.4\\-.5\\.2\\-1.7\\-2\\1\\0\\.3\\.3\\1.3\\0\\0\\0\\
-.1\\-.1\\-1.2\\0\\-.3\\0\\-.9\\-1.9\\.6\\1.3\\.2\\-.2\\2\\.1\\0\\-.1\\
-.3\\-1\\-.3\\-.5\\-.9\\-.7\\-.4\\-1.9\\.4\\1.2\\.3\\1.2\\.5\\.7\\.2\\.2\\
-.5\\-1.2\\-.7\\-.4\\-1.3\\-.2\\0\\-1.4\\-.2\\.7\\.6\\1.1\\.5\\.3\\.5\\.7\\
-.5\\-1.2\\-.7\\-.4\\-1.3\\-.4\\-.4\\-1.7\\.4\\1\\.5\\.9\\.4\\.4\\.2\\.7\\
-.6\\-1.4\\-.7\\-.1\\-1.3\\-.5\\-.4\\-1.7\\.3\\1\\.3\\1\\.4\\.4\\.3\\.8\\
-.6\\-1.3\\-.7\\-.2\\-1.3\\-.6\\0\\-1.8\\.4\\1\\.3\\1\\.8\\.4\\.3\\.6\\
.4\\-.9\\-.4\\.2\\-.4\\-.5\\-1.2\\-2.4\\.3\\.4\\.7\\1\\.3\\-.4\\.2\\.9\\
0\\-.9\\-.5\\-.5\\-.5\\0\\-1.3\\-1.9\\-.3\\.7\\.5\\.8\\1.2\\-.4\\.5\\.9\\
-1.6\\-1\\-.1\\-.3\\-.1\\-.4\\-.4\\-.4\\2.9\\-.2\\.4\\.2\\-.4\\-.5\\.4\\.8\\
-.2\\-1.6\\-.2\\-.9\\-1.4\\-.4\\-.4\\-.4\\1.9\\.1\\.2\\1.3\\-1.1\\.4\\-.1\\1\\
-.5\\-.4\\-.5\\-.5\\-.7\\-.4\\-.5\\-.6\\2.1\\.3\\0\\.1\\-.4\\-.5\\2.4\\-.6\\
-.4\\-1\\.4\\-.6\\-.6\\-.8\\-.7\\-.7\\2.2\\1.2\\1.2\\0\\.3\\-1.1\\.1\\.2\\
-2.4\\-.5\\-2\\0\\.1\\.2\\.3\\.2\\.1\\.1\\.2\\1.2\\-.1\\1\\.1\\0\\
-1\\.3\\-2.5\\-1\\-.2\\0\\-.2\\0\\.2\\.2\\.1\\1.2\\.4\\.2\\.3\\.2\\
0\\0\\-.6\\-.6\\.1\\0\\-2.5\\0\\.6\\0\\.8\\.6\\.3\\0\\1.1\\-.2\\
-.5\\-.6\\0\\.2\\-.4\\-.7\\-2.2\\.1\\-.2\\.3\\0\\.9\\.2\\2.4\\0\\0\\
0\\0\\0\\-.1\\-.3\\-.3\\-2.4\\-.2\\0\\.9\\-.2\\-.3\\-.3\\1.6\\1.4\\-.1\\
-.3\\-.4\\-.4\\-.4\\.2\\-.4\\-1.8\\-.5\\-.1\\.7\\.7\\.8\\-.5\\1.9\\1.2\\-.3\\
-.8\\-.5\\-.1\\-1.5\\-.2\\-.3\\-.3\\-.4\\-.7\\1\\2.6\\.1\\.2\\1\\.2\\-.4\\
-.5\\-1.4\\-.1\\-.3\\-.7\\-.4\\-.4\\-.1\\-.1\\3\\0\\-.5\\.2\\.2\\.9\\.1\\
-1.7\\-.3\\-1.7\\.5\\-.2\\.4\\-.3\\-.8\\-.2\\1.2\\.2\\-.4\\.9\\.5\\1\\-.3\\
-.1\\-.1\\2\\.4\\.5\\0\\.2\\1\\.2\\-1.5\\-.8\\-.2\\-.3\\0\\-.2\\-1.9\\
.2\\.9\\1.5\\.2\\.3\\-.3\\0\\1.5\\-.6\\0\\-1.6\\-.9\\-.3\\-.4\\.2\\-1.3\\
0\\.1\\1.2\\-.8\\1.3\\.4\\-.2\\1.6\\-.6\\0\\-1\\-.2\\-.1\\-.7\\-.1\\-1\\
.8\\0\\0\\0\\1.5\\.3\\0\\.4\\-.2\\-.6\\-2.8\\-.2\\-.1\\-.1\\0\\.1\\
.2\\0\\1.3\\.7\\.2\\1.3\\-.9\\-.2\\.3\\-.3\\-1.8\\-1.5\\-.5\\-.1\\.2\\-.2\\
-.1\\.9\\-.4\\-.2\\.2\\.3\\2\\1.1\\.2\\-2\\-.6\\-.6\\.3\\-.1\\-.5\\-.3\\
-.6\\1.9\\.5\\-.7\\.3\\.3\\.4\\1.3\\-.7\\-.8\\-.8\\-.8\\-.8\\-1.1\\.2\\.1\\
.2\\1\\0\\.2\\.5\\-.8\\.8\\1.7\\-.8\\-.9\\-.9\\-.9\\-.9\\-.9\\.3\\.5\\
1.8\\1.8\\-.2\\-.2\\-.5\\.4\\.7\\-.5\\.2\\-.8\\-1.7\\-.6\\.2\\-.5\\-.3\\0\\
.4\\2.2\\.5\\-.6\\0\\.7\\.4\\-.7\\-1.5\\0\\-1.4\\0\\.1\\-.6\\-.5\\-.8\\
.4\\0\\.5\\.5\\.2\\.1\\.4\\.4\\-.2\\.1\\-1.1\\-.4\\0\\-2.6\\.1\\0\\
.4\\2.9\\-.4\\.2\\.5\\-.2\\.3\\0\\.3\\-.1\\-1.1\\-.8\\-.6\\-.6\\-.1\\-.7\\
.5\\1.3\\-.2\\-.5\\2.8\\-.1\\.1\\0\\-.8\\0\\-.5\\0\\-.9\\-.9\\.1\\-.6\\
1.1\\.3\\0\\1.4\\-.2\\0\\-.2\\.4\\-.9\\.8\\.2\\-.5\\-.7\\-.6\\0\\-2.1\\
3\\1\\.4\\.3\\-.2\\-.2\\-.3\\0\\-.8\\-1.1\\0\\-.2\\-.1\\-.1\\-.9\\-1\\
2.2\\-.1\\1\\0\\.4\\.2\\.3\\-1.1\\-1.6\\.8\\-.3\\.2\\-.9\\-.7\\-.3\\-.8\\
0\\0\\.2\\.9\\.4\\.1\\-.1\\1.5\\.1\\-.2\\0\\-.4\\-2.6\\-1\\0\\0\\
1.7\\.1\\.2\\.6\\-.2\\.2\\-.1\\.3\\.2\\.2\\-.8\\-.3\\-2.7\\-.2\\.2\\-.3\\
1.7\\-.6\\.4\\-.3\\0\\.3\\.4\\.9\\.9\\-.5\\-1.2\\-.4\\-1.5\\-.3\\-.6\\-.7\\
1.6\\.2\\.2\\-.6\\.3\\.3\\.1\\2\\-.5\\-1.6\\-.4\\-1.5\\-.4\\-.3\\.1\\-.1\\
1.5\\.4\\.2\\0\\.3\\.5\\.2\\.3\\-.3\\-.4\\-.4\\-2.5\\-.3\\-.5\\0\\-.2\\
.5\\.1\\.2\\.1\\0\\.9\\.1\\1\\-.2\\-.3\\-1.6\\-1.7\\-.3\\-1.5\\.7\\0\\
0\\.2\\2.2\\1\\-.4\\0\\.5\\-.1\\-.9\\-.9\\.9\\-.6\\-.2\\0\\-.6\\-1.5\\
-.5\\.5\\1.5\\1\\-.6\\-.5\\1\\.1\\-.3\\-.4\\-.4\\-.7\\.3\\-.3\\.4\\-1.8\\
-.5\\-.3\\.3\\1.3\\.9\\.9\\-.1\\.2\\0\\-.2\\.1\\-1.6\\0\\-.1\\-2.1\\-.2\\
-.6\\-.6\\.3\\.9\\2.6\\.9\\-.6\\.6\\-.5\\.1\\-.6\\-.6\\-.2\\-.5\\-.6\\-.6\\
-.2\\.7\\0\\0\\-.1\\.8\\.6\\1.5\\-2\\-.1\\-1.7\\-.2\\-.2\\0\\-.5\\.1\\
-.9\\-.3\\.2\\1.8\\0\\1.3\\0\\1\\-1.5\\-.2\\-1.5\\-.6\\-.4\\0\\-.1\\-.3\\
-.1\\.4\\.3\\1.1\\-.6\\.4\\.1\\1\\-1.5\\.1\\.7\\0\\-.3\\.2\\-2.3\\-.7\\
0\\1\\.6\\.3\\.7\\.5\\.2\\.4\\-1.8\\-.9\\-.4\\-.5\\-1.3\\-.2\\-1\\.1\\
.4\\.9\\.5\\.3\\1.1\\.5\\.5\\.3\\-1.5\\-.8\\-.4\\-.7\\-.7\\-.1\\-1.4\\-1\\
};
\end{axis}
% ---------- colour bars
\begin{axis}[cbar,at={(380.35pt,475pt)},width=8pt,height=122pt,ymin=-3.06,ymax=3.09,point meta min=-3.06,point meta max=3.09,ytick={-3,-2,-1,0,1,2,3},yticklabels={-3,-2,-1,0,1,2,3}]
\addplot[surf,shader=interp,mesh/cols=2,point meta=y] coordinates {(0,-3.06)(1,-3.06)(0,-2)(1,-2)(0,-1)(1,-1)(0,0)(1,0)(0,1)(1,1)(0,2)(1,2)(0,3.09)(1,3.09)};
\end{axis}
\begin{axis}[cbar,at={(813.65pt,475pt)},width=8pt,height=122pt,ymin=-2.89,ymax=2.92,point meta min=-2.9,point meta max=2.92,ytick={-2,-1,0,1,2},yticklabels={-2,-1,0,1,2}]
\addplot[surf,shader=interp,mesh/cols=2,point meta=y] coordinates {(0,-2.89)(1,-2.89)(0,-2)(1,-2)(0,-1)(1,-1)(0,0)(1,0)(0,1)(1,1)(0,2)(1,2)(0,2.92)(1,2.92)};
\end{axis}
\begin{axis}[cbar,at={(380pt,164pt)},width=8pt,height=122.5pt,ymin=-3.1,ymax=3.12,point meta min=-3.1,point meta max=3.12,ytick={-3,-2,-1,0,1,2,3},yticklabels={-3,-2,-1,0,1,2,3}]
\addplot[surf,shader=interp,mesh/cols=2,point meta=y] coordinates {(0,-3.1)(1,-3.1)(0,-2)(1,-2)(0,-1)(1,-1)(0,0)(1,0)(0,1)(1,1)(0,2)(1,2)(0,3.12)(1,3.12)};
\end{axis}
% ---------- dendrogram A (x in 1/3 px from 390)
\begin{axis}[dendax,at={(189.5pt,312pt)},width=43pt,height=275.65pt,xmin=-33,xmax=225,ymax=49.5]
\U{1}{225}{2}{225}{115}\U{0}{225}{1.5}{115}{92}\U{4}{225}{5}{225}{135}\U{3}{225}{4.5}{135}{92}\U{.75}{92}{3.75}{92}{37}
\U{6}{225}{7}{225}{110}\U{8}{225}{9}{225}{97}\U{6.5}{110}{8.5}{97}{65}\U{2.25}{37}{7.5}{65}{30}
\U{10}{225}{11}{225}{122}\U{14}{225}{15}{225}{122}\U{13}{225}{14.5}{122}{118}\U{12}{225}{13.75}{118}{78}\U{10.5}{122}{12.875}{78}{47}
\U{17}{225}{18}{225}{130}\U{16}{225}{17.5}{130}{78}\U{21}{225}{22}{225}{148}\U{20}{225}{21.5}{148}{120}\U{19}{225}{20.75}{120}{95}
\U{23}{225}{24}{225}{115}\U{25}{225}{26}{225}{115}\U{23.5}{115}{25.5}{115}{90}\U{19.875}{95}{24.5}{90}{70}\U{16.75}{78}{22.19}{70}{42}
\U{11.69}{47}{19.47}{42}{33}\U{4.875}{30}{15.58}{33}{22}
\U{29}{225}{30}{225}{142}\U{28}{225}{29.5}{142}{100}\U{27}{225}{28.75}{100}{97}\U{31}{225}{32}{225}{133}\U{34}{225}{35}{225}{130}\U{33}{225}{34.5}{130}{118}\U{31.5}{133}{33.75}{118}{76}
\U{36}{225}{37}{225}{115}\U{38}{225}{39}{225}{87}\U{36.5}{115}{38.5}{87}{57}\U{32.625}{76}{37.5}{57}{50}\U{27.875}{97}{35.06}{50}{42}
\U{42}{225}{43}{225}{130}\U{41}{225}{42.5}{130}{107}\U{40}{225}{41.75}{107}{65}\U{44}{225}{45}{225}{108}\U{46}{225}{47}{225}{135}\U{48}{225}{49}{225}{110}\U{46.5}{135}{48.5}{110}{92}\U{44.5}{108}{47.5}{92}{58}\U{40.875}{65}{46}{58}{35}
\U{31.47}{42}{43.44}{35}{15}\U{10.23}{22}{37.45}{15}{-32}
\end{axis}
% ---------- dendrogram B (x in 1/3 px from 1240)
\begin{axis}[dendax,at={(622.5pt,312pt)},width=43.33pt,height=275.65pt,xmin=15,xmax=275,ymax=53.5]
\U{0}{275}{1}{275}{173}\U{2}{275}{3}{275}{173}\U{4}{275}{5}{275}{160}\U{2.5}{173}{4.5}{160}{143}\U{.5}{173}{3.5}{143}{118}
\U{6}{275}{7}{275}{127}\U{8}{275}{9}{275}{160}\U{6.5}{127}{8.5}{160}{122}\U{10}{275}{11}{275}{200}\U{12}{275}{13}{275}{173}\U{12.5}{173}{14}{275}{147}\U{10.5}{200}{13.25}{147}{125}
\U{16}{275}{17}{275}{162}\U{15}{275}{16.5}{162}{160}\U{11.875}{125}{15.75}{160}{100}\U{7.5}{122}{13.81}{100}{80}\U{2}{118}{10.66}{80}{65}
\U{20}{275}{21}{275}{158}\U{19}{275}{20.5}{158}{138}\U{18}{275}{19.75}{138}{122}\U{23}{275}{24}{275}{172}\U{22}{275}{23.5}{172}{133}\U{18.875}{122}{22.75}{133}{100}
\U{26}{275}{27}{275}{185}\U{28}{275}{29}{275}{157}\U{32}{275}{33}{275}{245}\U{31}{275}{32.5}{245}{215}\U{30}{275}{31.75}{215}{148}\U{28.5}{157}{30.875}{148}{115}\U{26.5}{185}{29.69}{115}{107}\U{25}{275}{28.09}{107}{80}\U{20.81}{100}{26.55}{80}{60}
\U{6.33}{65}{23.68}{60}{50}
\U{34}{275}{35}{275}{168}\U{37}{275}{38}{275}{173}\U{36}{275}{37.5}{173}{142}\U{34.5}{168}{36.75}{142}{117}
\U{40}{275}{41}{275}{178}\U{39}{275}{40.5}{178}{165}\U{42}{275}{43}{275}{183}\U{44}{275}{45}{275}{155}\U{42.5}{183}{44.5}{155}{122}\U{39.75}{165}{43.5}{122}{118}\U{35.625}{117}{41.625}{118}{92}
\U{46}{275}{47}{275}{148}\U{48}{275}{49}{275}{170}\U{50}{275}{51}{275}{172}\U{48.5}{170}{50.5}{172}{142}\U{52}{275}{53}{275}{140}\U{49.5}{142}{52.5}{140}{115}\U{46.5}{148}{51}{115}{83}\U{38.625}{92}{48.75}{83}{62}
\U{15}{50}{43.69}{62}{18}
\end{axis}
% ---------- dendrogram C (x in 1/3 px from 390)
\begin{axis}[dendax,at={(188.2pt,.65pt)},width=43.17pt,height=276.7pt,xmin=-41,xmax=218,ymax=60.5]
\U{2}{218}{3}{218}{213}\U{1}{218}{2.5}{213}{185}\U{0}{218}{1.75}{185}{135}\U{4}{218}{5}{218}{118}\U{.875}{135}{4.5}{118}{85}
\U{6}{218}{7}{218}{122}\U{8}{218}{9}{218}{118}\U{13}{218}{14}{218}{215}\U{12}{218}{13.5}{215}{195}\U{11}{218}{12.75}{195}{172}\U{10}{218}{11.875}{172}{145}\U{15}{218}{16}{218}{148}\U{10.94}{145}{15.5}{148}{118}\U{8.5}{118}{13.22}{118}{82}\U{6.5}{122}{10.86}{82}{55}\U{2.69}{85}{8.68}{55}{44}
\U{17}{218}{18}{218}{118}\U{19}{218}{20}{218}{105}\U{17.5}{118}{19.5}{105}{85}\U{21}{218}{22}{218}{110}\U{25}{218}{26}{218}{140}\U{24}{218}{25.5}{140}{105}\U{23}{218}{24.75}{105}{78}
\U{28}{218}{29}{218}{95}\U{27}{218}{28.5}{95}{75}\U{23.875}{78}{27.75}{75}{52}\U{21.5}{110}{25.81}{52}{42}\U{18.5}{85}{23.66}{42}{28}\U{5.68}{44}{21.08}{28}{15}
\U{31}{218}{32}{218}{125}\U{30}{218}{31.5}{125}{105}\U{33}{218}{34}{218}{87}\U{30.75}{105}{33.5}{87}{57}\U{36}{218}{37}{218}{130}\U{35}{218}{36.5}{130}{97}\U{32.125}{57}{35.75}{97}{28}
\U{38}{218}{39}{218}{115}\U{41}{218}{42}{218}{110}\U{40}{218}{41.5}{110}{67}\U{38.5}{115}{40.75}{67}{57}
\U{44}{218}{45}{218}{95}\U{43}{218}{44.5}{95}{88}\U{46}{218}{47}{218}{117}\U{49}{218}{50}{218}{118}\U{48}{218}{49.5}{118}{90}\U{48.75}{90}{51}{218}{72}\U{46.5}{117}{49.875}{72}{60}\U{43.75}{88}{48.19}{60}{43}\U{39.625}{57}{45.97}{43}{25}
\U{52}{218}{53}{218}{110}\U{54}{218}{55}{218}{120}\U{52.5}{110}{54.5}{120}{37}\U{56}{218}{57}{218}{105}\U{59}{218}{60}{218}{155}\U{58}{218}{59.5}{155}{120}\U{56.5}{105}{58.75}{120}{85}\U{53.5}{37}{57.6}{85}{22}
\U{42.8}{25}{55.56}{22}{15}\U{33.94}{28}{49.18}{15}{7}\U{13.38}{15}{41.56}{7}{-41}
\end{axis}
% ---------- text
\T{19.5}{14.5}{\fontsize{14.5}{16}\selectfont\bfseries A}
\T{926}{14.5}{\fontsize{14.5}{16}\selectfont\bfseries B}
\T{13}{658}{\fontsize{14.5}{16}\selectfont\bfseries C}
\T{926}{657.5}{\fontsize{14.5}{16}\selectfont\bfseries D}
\T[anchor=west]{669.3}{32.5}{\fontsize{6}{7}\selectfont\bfseries Type}
\T[anchor=west]{794}{29.5}{\fontsize{6}{7}\selectfont\bfseries Type}
\T[anchor=west]{814}{46}{\fontsize{7}{8}\selectfont C}
\T[anchor=west]{814}{63}{\fontsize{7}{8}\selectfont O}
\T[anchor=west]{1536}{32.5}{\fontsize{6}{7}\selectfont\bfseries Type}
\T[anchor=west]{1660.7}{29.5}{\fontsize{6}{7}\selectfont\bfseries Type}
\T[anchor=west]{1680.7}{46}{\fontsize{7}{8}\selectfont C}
\T[anchor=west]{1680.7}{63}{\fontsize{7}{8}\selectfont O}
\T[anchor=west]{665.7}{653}{\fontsize{6}{7}\selectfont\bfseries Type}
\T[anchor=west]{793.7}{650}{\fontsize{6}{7}\selectfont\bfseries Type}
\T[anchor=west]{813.3}{667}{\fontsize{7}{8}\selectfont C}
\T[anchor=west]{813.3}{684}{\fontsize{7}{8}\selectfont O}
\T{1320}{648}{\fontsize{15.4}{17}\selectfont\vennfont Obesity}
\T{1011.7}{861}{\fontsize{15.4}{17}\selectfont\vennfont Overweight}
\T[anchor=west]{1542.5}{861}{\fontsize{15.4}{17}\selectfont\vennfont Obesity with MS}
\T{1321.8}{754}{\fontsize{11.5}{13}\selectfont 41}
\T{1235}{860.7}{\fontsize{11.5}{13}\selectfont 2}
\T{1411}{860.7}{\fontsize{11.5}{13}\selectfont 8}
\T{1323}{912}{\fontsize{11.5}{13}\selectfont 3}
\T{1183}{994}{\fontsize{11.5}{13}\selectfont 35}
\T{1323.5}{1015.7}{\fontsize{11.5}{13}\selectfont 10}
\T{1463}{994}{\fontsize{11.5}{13}\selectfont 86}
\end{tikzpicture}
\end{document}
